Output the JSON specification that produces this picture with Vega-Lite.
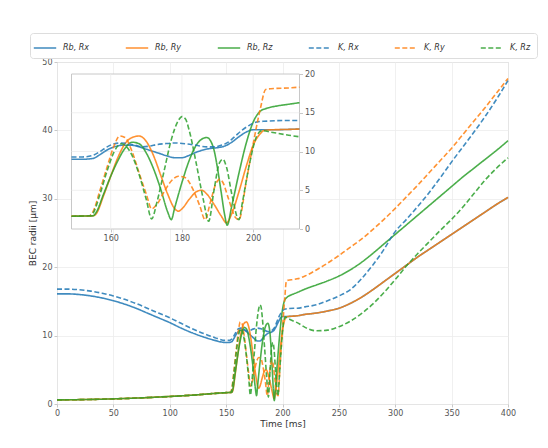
{
  "$schema": "https://vega.github.io/schema/vega-lite/v6.json",
  "width": 451,
  "height": 342,
  "autosize": {"type": "none"},
  "padding": {"left": 57, "top": 62, "right": 40, "bottom": 44},
  "background": "white",
  "config": {
    "font": "DejaVu Sans",
    "view": {"stroke": "#c8c8c8", "strokeWidth": 1},
    "axis": {"labelFontSize": 8, "labelColor": "#555555", "titleFontSize": 9, "titleFontWeight": "normal", "titleColor": "#333333", "gridColor": "#ececec", "gridWidth": 0.8, "domain": false, "tickColor": "#c8c8c8", "tickSize": 3, "labelPadding": 2, "labelFlush": false}
  },
  "datasets": {
    "box": [{"t": 149, "t2": 213, "v": 0, "v2": 20}],
    "grid": [
      {"t": 160, "t2": 160, "v": 0, "v2": 20},
      {"t": 180, "t2": 180, "v": 0, "v2": 20},
      {"t": 200, "t2": 200, "v": 0, "v2": 20},
      {"t": 149, "t2": 213, "v": 5, "v2": 5},
      {"t": 149, "t2": 213, "v": 10, "v2": 10},
      {"t": 149, "t2": 213, "v": 15, "v2": 15}
    ],
    "d": [
      {"s":"Rb, Rx","t":0,"v":16.1},{"s":"Rb, Rx","t":10,"v":16.1},{"s":"Rb, Rx","t":20,"v":16.0},{"s":"Rb, Rx","t":30,"v":15.8},{"s":"Rb, Rx","t":40,"v":15.5},{"s":"Rb, Rx","t":50,"v":15.1},{"s":"Rb, Rx","t":60,"v":14.6},{"s":"Rb, Rx","t":70,"v":14.0},{"s":"Rb, Rx","t":80,"v":13.3},{"s":"Rb, Rx","t":90,"v":12.6},{"s":"Rb, Rx","t":100,"v":11.9},{"s":"Rb, Rx","t":110,"v":11.1},{"s":"Rb, Rx","t":120,"v":10.4},{"s":"Rb, Rx","t":130,"v":9.8},{"s":"Rb, Rx","t":140,"v":9.3},{"s":"Rb, Rx","t":149,"v":9.0},{"s":"Rb, Rx","t":152,"v":9.0},{"s":"Rb, Rx","t":155,"v":9.1},{"s":"Rb, Rx","t":157,"v":9.6},{"s":"Rb, Rx","t":159,"v":10.2},{"s":"Rb, Rx","t":161,"v":10.6},{"s":"Rb, Rx","t":163,"v":10.8},{"s":"Rb, Rx","t":166,"v":10.8},{"s":"Rb, Rx","t":168,"v":10.6},{"s":"Rb, Rx","t":170,"v":10.3},{"s":"Rb, Rx","t":172,"v":10.0},{"s":"Rb, Rx","t":174,"v":9.7},{"s":"Rb, Rx","t":176,"v":9.4},{"s":"Rb, Rx","t":178,"v":9.2},{"s":"Rb, Rx","t":180,"v":9.2},{"s":"Rb, Rx","t":182,"v":9.5},{"s":"Rb, Rx","t":184,"v":9.9},{"s":"Rb, Rx","t":186,"v":10.2},{"s":"Rb, Rx","t":188,"v":10.4},{"s":"Rb, Rx","t":190,"v":10.5},{"s":"Rb, Rx","t":192,"v":10.7},{"s":"Rb, Rx","t":194,"v":11.2},{"s":"Rb, Rx","t":196,"v":11.9},{"s":"Rb, Rx","t":198,"v":12.5},{"s":"Rb, Rx","t":200,"v":12.8},{"s":"Rb, Rx","t":205,"v":12.8},{"s":"Rb, Rx","t":210,"v":12.85},{"s":"Rb, Rx","t":213,"v":12.9},{"s":"Rb, Rx","t":220,"v":13.1},{"s":"Rb, Rx","t":230,"v":13.3},{"s":"Rb, Rx","t":240,"v":13.6},{"s":"Rb, Rx","t":250,"v":14.0},{"s":"Rb, Rx","t":260,"v":14.7},{"s":"Rb, Rx","t":270,"v":15.6},{"s":"Rb, Rx","t":280,"v":16.7},{"s":"Rb, Rx","t":290,"v":17.9},{"s":"Rb, Rx","t":300,"v":19.1},{"s":"Rb, Rx","t":310,"v":20.3},{"s":"Rb, Rx","t":320,"v":21.5},{"s":"Rb, Rx","t":330,"v":22.6},{"s":"Rb, Rx","t":340,"v":23.7},{"s":"Rb, Rx","t":350,"v":24.8},{"s":"Rb, Rx","t":360,"v":25.9},{"s":"Rb, Rx","t":370,"v":27.0},{"s":"Rb, Rx","t":380,"v":28.1},{"s":"Rb, Rx","t":390,"v":29.2},{"s":"Rb, Rx","t":400,"v":30.2},

      {"s":"Rb, Ry","t":0,"v":0.6},{"s":"Rb, Ry","t":25,"v":0.65},{"s":"Rb, Ry","t":50,"v":0.75},{"s":"Rb, Ry","t":75,"v":0.9},{"s":"Rb, Ry","t":100,"v":1.1},{"s":"Rb, Ry","t":125,"v":1.35},{"s":"Rb, Ry","t":140,"v":1.55},{"s":"Rb, Ry","t":149,"v":1.65},{"s":"Rb, Ry","t":155,"v":1.7},{"s":"Rb, Ry","t":156,"v":2.0},{"s":"Rb, Ry","t":158,"v":4.3},{"s":"Rb, Ry","t":160,"v":6.8},{"s":"Rb, Ry","t":162,"v":9.2},{"s":"Rb, Ry","t":164,"v":11.0},{"s":"Rb, Ry","t":166,"v":11.8},{"s":"Rb, Ry","t":168,"v":12.0},{"s":"Rb, Ry","t":170,"v":11.3},{"s":"Rb, Ry","t":172,"v":9.5},{"s":"Rb, Ry","t":174,"v":7.0},{"s":"Rb, Ry","t":176,"v":4.5},{"s":"Rb, Ry","t":178,"v":2.6},{"s":"Rb, Ry","t":179,"v":2.3},{"s":"Rb, Ry","t":180,"v":2.6},{"s":"Rb, Ry","t":182,"v":3.8},{"s":"Rb, Ry","t":184,"v":4.8},{"s":"Rb, Ry","t":185.5,"v":5.0},{"s":"Rb, Ry","t":187,"v":4.5},{"s":"Rb, Ry","t":189,"v":3.2},{"s":"Rb, Ry","t":191,"v":1.7},{"s":"Rb, Ry","t":192.5,"v":0.8},{"s":"Rb, Ry","t":194,"v":2.0},{"s":"Rb, Ry","t":196,"v":4.8},{"s":"Rb, Ry","t":198,"v":8.0},{"s":"Rb, Ry","t":200,"v":10.8},{"s":"Rb, Ry","t":202,"v":12.3},{"s":"Rb, Ry","t":203,"v":12.7},{"s":"Rb, Ry","t":205,"v":12.8},{"s":"Rb, Ry","t":210,"v":12.85},{"s":"Rb, Ry","t":213,"v":12.9},{"s":"Rb, Ry","t":220,"v":13.1},{"s":"Rb, Ry","t":230,"v":13.3},{"s":"Rb, Ry","t":240,"v":13.6},{"s":"Rb, Ry","t":250,"v":14.0},{"s":"Rb, Ry","t":260,"v":14.7},{"s":"Rb, Ry","t":270,"v":15.6},{"s":"Rb, Ry","t":280,"v":16.7},{"s":"Rb, Ry","t":290,"v":17.9},{"s":"Rb, Ry","t":300,"v":19.1},{"s":"Rb, Ry","t":310,"v":20.3},{"s":"Rb, Ry","t":320,"v":21.5},{"s":"Rb, Ry","t":330,"v":22.6},{"s":"Rb, Ry","t":340,"v":23.7},{"s":"Rb, Ry","t":350,"v":24.8},{"s":"Rb, Ry","t":360,"v":25.9},{"s":"Rb, Ry","t":370,"v":27.0},{"s":"Rb, Ry","t":380,"v":28.1},{"s":"Rb, Ry","t":390,"v":29.2},{"s":"Rb, Ry","t":400,"v":30.2},

      {"s":"Rb, Rz","t":0,"v":0.6},{"s":"Rb, Rz","t":25,"v":0.65},{"s":"Rb, Rz","t":50,"v":0.75},{"s":"Rb, Rz","t":75,"v":0.9},{"s":"Rb, Rz","t":100,"v":1.1},{"s":"Rb, Rz","t":125,"v":1.35},{"s":"Rb, Rz","t":140,"v":1.55},{"s":"Rb, Rz","t":149,"v":1.65},{"s":"Rb, Rz","t":155,"v":1.7},{"s":"Rb, Rz","t":156,"v":2.2},{"s":"Rb, Rz","t":158,"v":4.5},{"s":"Rb, Rz","t":160,"v":6.8},{"s":"Rb, Rz","t":162,"v":8.8},{"s":"Rb, Rz","t":164,"v":10.4},{"s":"Rb, Rz","t":166,"v":11.2},{"s":"Rb, Rz","t":168,"v":11.0},{"s":"Rb, Rz","t":170,"v":9.8},{"s":"Rb, Rz","t":172,"v":7.8},{"s":"Rb, Rz","t":174,"v":5.2},{"s":"Rb, Rz","t":176,"v":2.2},{"s":"Rb, Rz","t":177,"v":1.2},{"s":"Rb, Rz","t":178,"v":2.8},{"s":"Rb, Rz","t":180,"v":6.0},{"s":"Rb, Rz","t":182,"v":8.8},{"s":"Rb, Rz","t":184,"v":10.8},{"s":"Rb, Rz","t":186,"v":11.7},{"s":"Rb, Rz","t":187,"v":11.8},{"s":"Rb, Rz","t":188,"v":11.4},{"s":"Rb, Rz","t":189,"v":10.2},{"s":"Rb, Rz","t":190,"v":7.8},{"s":"Rb, Rz","t":191,"v":4.8},{"s":"Rb, Rz","t":192,"v":1.8},{"s":"Rb, Rz","t":192.7,"v":0.5},{"s":"Rb, Rz","t":194,"v":3.0},{"s":"Rb, Rz","t":196,"v":7.2},{"s":"Rb, Rz","t":198,"v":11.0},{"s":"Rb, Rz","t":200,"v":13.8},{"s":"Rb, Rz","t":202,"v":15.2},{"s":"Rb, Rz","t":204,"v":15.6},{"s":"Rb, Rz","t":207,"v":15.9},{"s":"Rb, Rz","t":210,"v":16.1},{"s":"Rb, Rz","t":213,"v":16.3},{"s":"Rb, Rz","t":220,"v":16.8},{"s":"Rb, Rz","t":230,"v":17.4},{"s":"Rb, Rz","t":240,"v":18.0},{"s":"Rb, Rz","t":250,"v":18.7},{"s":"Rb, Rz","t":260,"v":19.6},{"s":"Rb, Rz","t":270,"v":20.7},{"s":"Rb, Rz","t":280,"v":22.0},{"s":"Rb, Rz","t":290,"v":23.4},{"s":"Rb, Rz","t":300,"v":24.8},{"s":"Rb, Rz","t":310,"v":26.2},{"s":"Rb, Rz","t":320,"v":27.6},{"s":"Rb, Rz","t":330,"v":29.0},{"s":"Rb, Rz","t":340,"v":30.4},{"s":"Rb, Rz","t":350,"v":31.8},{"s":"Rb, Rz","t":360,"v":33.2},{"s":"Rb, Rz","t":370,"v":34.5},{"s":"Rb, Rz","t":380,"v":35.8},{"s":"Rb, Rz","t":390,"v":37.1},{"s":"Rb, Rz","t":400,"v":38.5},

      {"s":"K, Rx","t":0,"v":16.8},{"s":"K, Rx","t":10,"v":16.8},{"s":"K, Rx","t":20,"v":16.7},{"s":"K, Rx","t":30,"v":16.5},{"s":"K, Rx","t":40,"v":16.2},{"s":"K, Rx","t":50,"v":15.8},{"s":"K, Rx","t":60,"v":15.3},{"s":"K, Rx","t":70,"v":14.7},{"s":"K, Rx","t":80,"v":14.0},{"s":"K, Rx","t":90,"v":13.3},{"s":"K, Rx","t":100,"v":12.6},{"s":"K, Rx","t":110,"v":11.8},{"s":"K, Rx","t":120,"v":11.0},{"s":"K, Rx","t":130,"v":10.3},{"s":"K, Rx","t":140,"v":9.7},{"s":"K, Rx","t":149,"v":9.3},{"s":"K, Rx","t":152,"v":9.3},{"s":"K, Rx","t":155,"v":9.5},{"s":"K, Rx","t":157,"v":10.0},{"s":"K, Rx","t":159,"v":10.6},{"s":"K, Rx","t":161,"v":11.0},{"s":"K, Rx","t":163,"v":11.1},{"s":"K, Rx","t":165,"v":11.0},{"s":"K, Rx","t":167,"v":10.8},{"s":"K, Rx","t":169,"v":10.6},{"s":"K, Rx","t":171,"v":10.7},{"s":"K, Rx","t":173,"v":10.9},{"s":"K, Rx","t":175,"v":11.0},{"s":"K, Rx","t":178,"v":11.1},{"s":"K, Rx","t":181,"v":11.0},{"s":"K, Rx","t":184,"v":10.8},{"s":"K, Rx","t":187,"v":10.6},{"s":"K, Rx","t":189,"v":10.6},{"s":"K, Rx","t":191,"v":10.8},{"s":"K, Rx","t":193,"v":11.2},{"s":"K, Rx","t":195,"v":12.0},{"s":"K, Rx","t":197,"v":12.8},{"s":"K, Rx","t":199,"v":13.4},{"s":"K, Rx","t":201,"v":13.8},{"s":"K, Rx","t":203,"v":13.9},{"s":"K, Rx","t":210,"v":14.0},{"s":"K, Rx","t":213,"v":14.0},{"s":"K, Rx","t":220,"v":14.2},{"s":"K, Rx","t":230,"v":14.5},{"s":"K, Rx","t":240,"v":15.1},{"s":"K, Rx","t":250,"v":15.8},{"s":"K, Rx","t":260,"v":16.7},{"s":"K, Rx","t":270,"v":18.3},{"s":"K, Rx","t":280,"v":20.3},{"s":"K, Rx","t":290,"v":22.6},{"s":"K, Rx","t":297,"v":24.5},{"s":"K, Rx","t":300,"v":25.2},{"s":"K, Rx","t":310,"v":27.0},{"s":"K, Rx","t":320,"v":28.9},{"s":"K, Rx","t":330,"v":30.9},{"s":"K, Rx","t":340,"v":33.1},{"s":"K, Rx","t":350,"v":35.4},{"s":"K, Rx","t":360,"v":37.6},{"s":"K, Rx","t":370,"v":39.8},{"s":"K, Rx","t":380,"v":42.1},{"s":"K, Rx","t":390,"v":44.6},{"s":"K, Rx","t":400,"v":47.3},

      {"s":"K, Ry","t":0,"v":0.6},{"s":"K, Ry","t":25,"v":0.65},{"s":"K, Ry","t":50,"v":0.75},{"s":"K, Ry","t":75,"v":0.9},{"s":"K, Ry","t":100,"v":1.1},{"s":"K, Ry","t":125,"v":1.35},{"s":"K, Ry","t":140,"v":1.55},{"s":"K, Ry","t":149,"v":1.65},{"s":"K, Ry","t":154,"v":1.7},{"s":"K, Ry","t":155,"v":2.2},{"s":"K, Ry","t":157,"v":5.0},{"s":"K, Ry","t":159,"v":8.0},{"s":"K, Ry","t":161,"v":10.8},{"s":"K, Ry","t":162.5,"v":12.0},{"s":"K, Ry","t":164,"v":11.8},{"s":"K, Ry","t":166,"v":10.0},{"s":"K, Ry","t":168,"v":7.2},{"s":"K, Ry","t":170,"v":4.5},{"s":"K, Ry","t":171.5,"v":2.6},{"s":"K, Ry","t":173,"v":3.2},{"s":"K, Ry","t":175,"v":4.8},{"s":"K, Ry","t":177,"v":6.2},{"s":"K, Ry","t":179,"v":6.8},{"s":"K, Ry","t":181,"v":6.6},{"s":"K, Ry","t":183,"v":5.2},{"s":"K, Ry","t":185,"v":3.0},{"s":"K, Ry","t":186.5,"v":1.2},{"s":"K, Ry","t":188,"v":3.5},{"s":"K, Ry","t":189.5,"v":5.8},{"s":"K, Ry","t":190.5,"v":6.4},{"s":"K, Ry","t":191.5,"v":6.0},{"s":"K, Ry","t":193,"v":4.0},{"s":"K, Ry","t":195,"v":1.5},{"s":"K, Ry","t":196,"v":1.2},{"s":"K, Ry","t":198,"v":6.0},{"s":"K, Ry","t":200,"v":11.0},{"s":"K, Ry","t":202,"v":15.5},{"s":"K, Ry","t":203.5,"v":18.0},{"s":"K, Ry","t":205,"v":18.1},{"s":"K, Ry","t":210,"v":18.2},{"s":"K, Ry","t":213,"v":18.3},{"s":"K, Ry","t":220,"v":18.7},{"s":"K, Ry","t":230,"v":19.6},{"s":"K, Ry","t":240,"v":20.6},{"s":"K, Ry","t":250,"v":21.7},{"s":"K, Ry","t":260,"v":22.9},{"s":"K, Ry","t":270,"v":24.1},{"s":"K, Ry","t":280,"v":25.5},{"s":"K, Ry","t":290,"v":27.0},{"s":"K, Ry","t":300,"v":28.6},{"s":"K, Ry","t":310,"v":30.3},{"s":"K, Ry","t":320,"v":32.0},{"s":"K, Ry","t":330,"v":33.8},{"s":"K, Ry","t":340,"v":35.6},{"s":"K, Ry","t":350,"v":37.4},{"s":"K, Ry","t":360,"v":39.4},{"s":"K, Ry","t":370,"v":41.4},{"s":"K, Ry","t":380,"v":43.4},{"s":"K, Ry","t":390,"v":45.5},{"s":"K, Ry","t":400,"v":47.6},

      {"s":"K, Rz","t":0,"v":0.6},{"s":"K, Rz","t":25,"v":0.65},{"s":"K, Rz","t":50,"v":0.75},{"s":"K, Rz","t":75,"v":0.9},{"s":"K, Rz","t":100,"v":1.1},{"s":"K, Rz","t":125,"v":1.35},{"s":"K, Rz","t":140,"v":1.55},{"s":"K, Rz","t":149,"v":1.65},{"s":"K, Rz","t":154,"v":1.7},{"s":"K, Rz","t":155,"v":2.0},{"s":"K, Rz","t":157,"v":4.5},{"s":"K, Rz","t":159,"v":7.5},{"s":"K, Rz","t":161,"v":10.0},{"s":"K, Rz","t":163,"v":11.0},{"s":"K, Rz","t":164,"v":10.8},{"s":"K, Rz","t":166,"v":9.5},{"s":"K, Rz","t":168,"v":7.0},{"s":"K, Rz","t":170,"v":3.8},{"s":"K, Rz","t":171.5,"v":1.3},{"s":"K, Rz","t":173,"v":3.5},{"s":"K, Rz","t":175,"v":7.5},{"s":"K, Rz","t":177,"v":11.5},{"s":"K, Rz","t":179,"v":14.0},{"s":"K, Rz","t":180,"v":14.5},{"s":"K, Rz","t":181,"v":14.2},{"s":"K, Rz","t":182,"v":12.8},{"s":"K, Rz","t":184,"v":8.5},{"s":"K, Rz","t":186,"v":3.8},{"s":"K, Rz","t":187.5,"v":1.0},{"s":"K, Rz","t":189,"v":5.0},{"s":"K, Rz","t":190.5,"v":8.5},{"s":"K, Rz","t":191.5,"v":9.0},{"s":"K, Rz","t":192.5,"v":8.0},{"s":"K, Rz","t":194,"v":4.5},{"s":"K, Rz","t":196,"v":1.2},{"s":"K, Rz","t":197,"v":3.5},{"s":"K, Rz","t":199,"v":8.5},{"s":"K, Rz","t":201,"v":12.0},{"s":"K, Rz","t":202.5,"v":12.7},{"s":"K, Rz","t":205,"v":12.5},{"s":"K, Rz","t":210,"v":12.1},{"s":"K, Rz","t":213,"v":11.9},{"s":"K, Rz","t":220,"v":11.2},{"s":"K, Rz","t":230,"v":10.7},{"s":"K, Rz","t":240,"v":10.8},{"s":"K, Rz","t":250,"v":11.3},{"s":"K, Rz","t":260,"v":12.1},{"s":"K, Rz","t":270,"v":13.2},{"s":"K, Rz","t":280,"v":14.6},{"s":"K, Rz","t":290,"v":16.3},{"s":"K, Rz","t":300,"v":18.2},{"s":"K, Rz","t":310,"v":20.2},{"s":"K, Rz","t":320,"v":22.0},{"s":"K, Rz","t":330,"v":23.7},{"s":"K, Rz","t":340,"v":25.4},{"s":"K, Rz","t":350,"v":27.0},{"s":"K, Rz","t":360,"v":28.8},{"s":"K, Rz","t":370,"v":30.8},{"s":"K, Rz","t":380,"v":32.8},{"s":"K, Rz","t":390,"v":34.5},{"s":"K, Rz","t":400,"v":36.0}
    ]
  },
  "layer": [
    {
      "data": {"name": "d"},
      "mark": {"type": "line", "strokeWidth": 1.6, "opacity": 0.85, "interpolate": "monotone"},
      "encoding": {
        "x": {"field": "t", "type": "quantitative", "scale": {"domain": [0, 400], "nice": false, "zero": false}, "axis": {"values": [0, 50, 100, 150, 200, 250, 300, 350, 400], "title": "Time [ms]", "titlePadding": 2}},
        "y": {"field": "v", "type": "quantitative", "scale": {"domain": [0, 50], "nice": false}, "axis": {"values": [0, 10, 20, 30, 40, 50], "title": "BEC radii [μm]", "titlePadding": 4}},
        "color": {"field": "s", "type": "nominal", "scale": {"domain": ["Rb, Rx", "Rb, Ry", "Rb, Rz", "K, Rx", "K, Ry", "K, Rz"], "range": ["#1f77b4", "#ff7f0e", "#2ca02c", "#1f77b4", "#ff7f0e", "#2ca02c"]},
          "legend": {"orient": "none", "legendX": -27, "legendY": -29, "direction": "horizontal", "columns": 6, "title": null, "symbolType": "M -1.4 0 L 1.4 0", "symbolSize": 256, "symbolStrokeWidth": 1.5, "labelOffset": 9, "labelFontSize": 8, "labelFontStyle": "italic", "labelColor": "#333333", "columnPadding": 32, "padding": 6, "strokeColor": "#dddddd", "cornerRadius": 3, "fillColor": "white"}},
        "strokeDash": {"field": "s", "type": "nominal", "scale": {"domain": ["Rb, Rx", "Rb, Ry", "Rb, Rz", "K, Rx", "K, Ry", "K, Rz"], "range": [[1, 0], [1, 0], [1, 0], [5, 2.5], [5, 2.5], [5, 2.5]]},
          "legend": {"orient": "none", "legendX": -27, "legendY": -29, "direction": "horizontal", "columns": 6, "title": null, "symbolType": "M -1.4 0 L 1.4 0", "symbolSize": 256, "symbolStrokeWidth": 1.5, "labelOffset": 9, "labelFontSize": 8, "labelFontStyle": "italic", "labelColor": "#333333", "columnPadding": 32, "padding": 6, "strokeColor": "#dddddd", "cornerRadius": 3, "fillColor": "white"}}
      }
    },
    {
      "encoding": {
        "x": {"field": "t", "type": "quantitative", "scale": {"domain": [149, 213], "range": [14.5, 242.5], "nice": false, "zero": false}, "axis": {"orient": "bottom", "offset": -175, "values": [160, 180, 200], "grid": false, "title": null}},
        "y": {"field": "v", "type": "quantitative", "scale": {"domain": [0, 20], "range": [167, 12], "nice": false}, "axis": {"orient": "right", "offset": -208.5, "values": [0, 5, 10, 15, 20], "grid": false, "title": null}}
      },
      "layer": [
        {"data": {"name": "box"}, "mark": {"type": "rect", "fill": "white", "stroke": "#c8c8c8", "strokeWidth": 1}, "encoding": {"x2": {"field": "t2"}, "y2": {"field": "v2"}}},
        {"data": {"name": "grid"}, "mark": {"type": "rule", "color": "#ececec", "strokeWidth": 0.8}, "encoding": {"x2": {"field": "t2"}, "y2": {"field": "v2"}}},
        {
          "data": {"name": "d"},
          "transform": [{"filter": "datum.t >= 149 && datum.t <= 213"}],
          "mark": {"type": "line", "strokeWidth": 1.6, "opacity": 0.85, "interpolate": "monotone"},
          "encoding": {
            "color": {"field": "s", "type": "nominal", "scale": {"domain": ["Rb, Rx", "Rb, Ry", "Rb, Rz", "K, Rx", "K, Ry", "K, Rz"], "range": ["#1f77b4", "#ff7f0e", "#2ca02c", "#1f77b4", "#ff7f0e", "#2ca02c"]},
              "legend": {"orient": "none", "legendX": -27, "legendY": -29, "direction": "horizontal", "columns": 6, "title": null, "symbolType": "M -1.4 0 L 1.4 0", "symbolSize": 256, "symbolStrokeWidth": 1.5, "labelOffset": 9, "labelFontSize": 8, "labelFontStyle": "italic", "labelColor": "#333333", "columnPadding": 32, "padding": 6, "strokeColor": "#dddddd", "cornerRadius": 3, "fillColor": "white"}},
            "strokeDash": {"field": "s", "type": "nominal", "scale": {"domain": ["Rb, Rx", "Rb, Ry", "Rb, Rz", "K, Rx", "K, Ry", "K, Rz"], "range": [[1, 0], [1, 0], [1, 0], [5, 2.5], [5, 2.5], [5, 2.5]]},
              "legend": {"orient": "none", "legendX": -27, "legendY": -29, "direction": "horizontal", "columns": 6, "title": null, "symbolType": "M -1.4 0 L 1.4 0", "symbolSize": 256, "symbolStrokeWidth": 1.5, "labelOffset": 9, "labelFontSize": 8, "labelFontStyle": "italic", "labelColor": "#333333", "columnPadding": 32, "padding": 6, "strokeColor": "#dddddd", "cornerRadius": 3, "fillColor": "white"}}
          }
        }
      ]
    }
  ],
  "resolve": {"scale": {"x": "independent", "y": "independent"}}
}
